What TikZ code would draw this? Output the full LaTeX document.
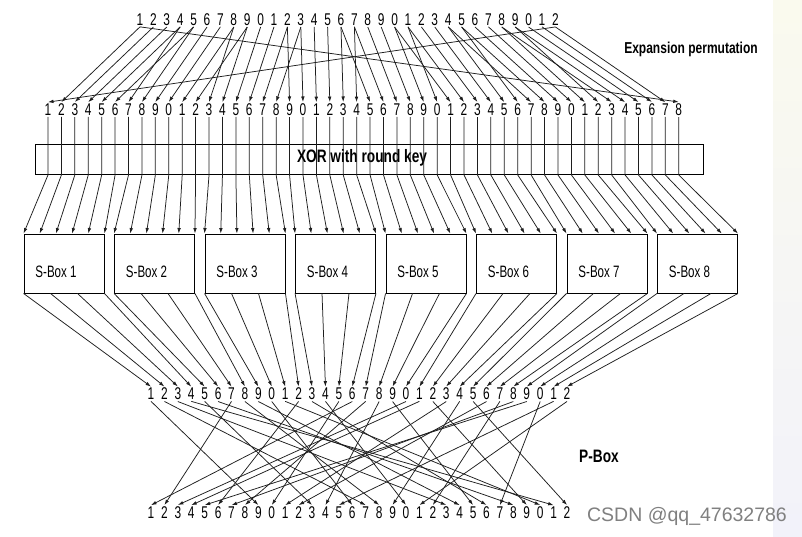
\documentclass[tikz,border=0pt]{standalone}
\usepackage{fontspec}
\setmainfont{Liberation Sans}
\newfontfamily\narrowfont[FakeStretch=0.7]{Liberation Sans}
\newfontfamily\headfont[FakeStretch=0.76]{Liberation Sans}
\usetikzlibrary{arrows.meta, calc, positioning}
\definecolor{wirecol}{RGB}{30, 30, 30}
\definecolor{stripA}{RGB}{250, 250, 238}
\definecolor{stripB}{RGB}{242, 242, 250}
\definecolor{markgray}{RGB}{128, 128, 128}

\begin{document}
\begin{tikzpicture}[x=1pt, y=-1pt,
      digit/.style  = {inner sep=0pt, outer sep=1.5pt,
                       font=\narrowfont\fontsize{17}{17}\selectfont},
      wire/.style   = {-{Latex[length=5.5pt, width=3.6pt]}, line width=0.75pt, color=wirecol},
      sbox/.style   = {draw, line width=0.9pt, minimum width=80pt,
                       minimum height=59pt, inner sep=0pt},
      boxlbl/.style = {font=\narrowfont\fontsize{16.5}{17}\selectfont},
      head/.style   = {font=\headfont\bfseries},
    ]
    \useasboundingbox (0,0) rectangle (802,536);
    \fill[white] (0,0) rectangle (802,536);
    \shade[top color=stripA, bottom color=stripB] (773,0) rectangle (802,536);

    % --- Righe di bit ---
    \foreach \i in {1,...,32}{
      \pgfmathtruncatemacro\d{mod(\i,10)}
      \node[digit] (t\i) at ({140+13.4*(\i-1)}, 19.5) {\d};
      \node[digit] (m\i) at ({151+13.42*(\i-1)}, 394) {\d};
      \node[digit] (p\i) at ({151+13.42*(\i-1)}, 512.5) {\d};
    }
    \foreach \i in {1,...,48}{
      \pgfmathtruncatemacro\d{mod(\i,10)}
      \node[digit] (e\i) at ({48+13.42*(\i-1)}, 109.5) {\d};
    }

    % --- XOR e S-box ---
    \node[draw, line width=0.9pt, minimum width=668pt, minimum height=30pt,
          inner sep=0pt] (xor) at (369, 159.5) {};
    \node[head, font=\headfont\bfseries\fontsize{18}{18}\selectfont] (xorlbl)
          at (362, 158) {XOR with round key};
    \foreach \k in {1,...,8}{
      \node[sbox] (s\k) at ({64+90.5*(\k-1)}, 263.5) {};
      \node[boxlbl] (sl\k) at ($(s\k.center)+(-8,8)$) {S-Box \k};
    }

    % --- Etichette ---
    \node[head, font=\headfont\bfseries\fontsize{15.8}{16}\selectfont] (explbl)
          at (691, 49) {Expansion permutation};
    \node[head, font=\headfont\bfseries\fontsize{18}{18}\selectfont] (pbox)
          at (599, 456) {P-Box};
    \node[font=\fontsize{19.5}{20}\selectfont, text=markgray] (mark)
          at (687, 516) {CSDN @qq\_47632786};

    % --- Espansione (32 -> 48) ---
    \foreach \src [count=\i] in {32,1,2,3,4,5, 4,5,6,7,8,9, 8,9,10,11,12,13,
                                 12,13,14,15,16,17, 16,17,18,19,20,21,
                                 20,21,22,23,24,25, 24,25,26,27,28,29,
                                 28,29,30,31,32,1}{
      \draw[wire] (t\src.south) -- (e\i.north);
    }

    % --- Verso le S-box ---
    \foreach \k in {1,...,8}{
      \foreach \j in {0,...,5}{
        \pgfmathtruncatemacro\i{6*(\k-1)+\j+1}
        \draw[wire] (e\i.south) -- (e\i.south |- xor.south)
          -- ($(s\k.north west)!\j/5!(s\k.north east)$);
      }
      % uscite (4 bit per box)
      \foreach \j in {0,...,3}{
        \pgfmathtruncatemacro\i{4*(\k-1)+\j+1}
        \draw[wire] ($(s\k.south west)!\j/3!(s\k.south east)$) -- (m\i.north);
      }
    }

    % --- P-box ---
    \foreach \src [count=\i] in {16,7,20,21,29,12,28,17, 1,15,23,26,5,18,31,10,
                                 2,8,24,14,32,27,3,9, 19,13,30,6,22,11,4,25}{
      \draw[wire] (m\src.south) -- (p\i.north);
    }

  \end{tikzpicture}
\end{document}
